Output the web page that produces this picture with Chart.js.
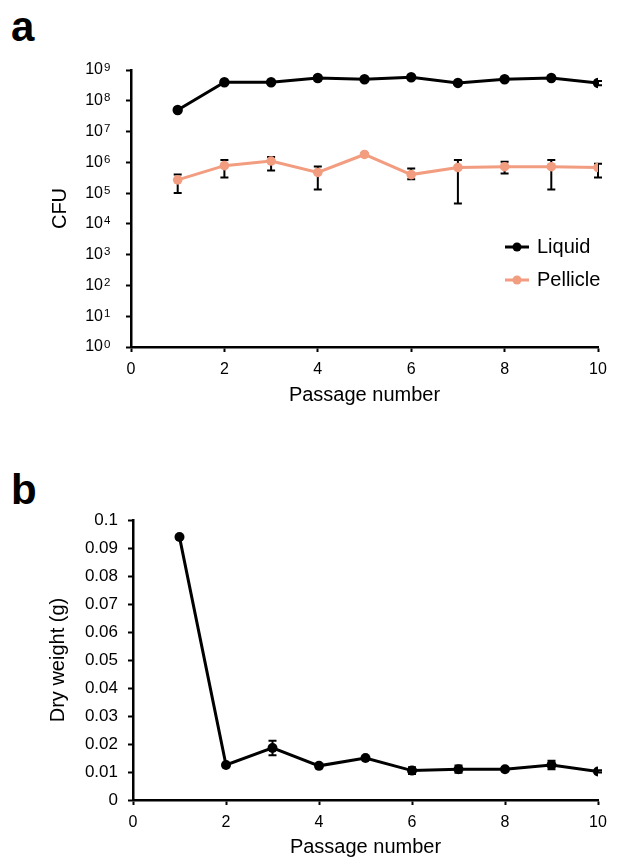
<!DOCTYPE html>
<html>
<head>
<meta charset="utf-8">
<script src="https://cdn.jsdelivr.net/npm/chart.js@4.4.1/dist/chart.umd.min.js"></script>
<style>
  body { margin: 0; background: #fff; }
  .wrap { position: relative; width: 617px; height: 859px; }
  canvas { position: absolute; left: 0; }
  #cfuChart { top: 0; }
  #weightChart { top: 430px; }
  .panel { position: absolute; left: 11px; font: bold 42px 'Liberation Sans', Arial, sans-serif; line-height: 1; }
</style>
</head>
<body>
<div class="wrap">
  <div class="panel" style="top: 6px">a</div>
  <canvas id="cfuChart" width="617" height="430"></canvas>
  <div class="panel" style="top: 469px">b</div>
  <canvas id="weightChart" width="617" height="429"></canvas>
</div>
<script>
const passages = [1, 2, 3, 4, 5, 6, 7, 8, 9, 10]

// panel a, CFU
const liquidCfu = [5e7, 4e8, 4e8, 5.5e8, 5e8, 5.8e8, 3.8e8, 5e8, 5.5e8, 3.8e8]
const liquidLow = [4.8e7, 3.8e8, 3.8e8, 4.6e8, 4.8e8, 5.5e8, 3.6e8, 4.8e8, 5.2e8, 3.2e8]
const liquidHigh = [5.2e7, 4.2e8, 4.2e8, 6.4e8, 5.2e8, 6.1e8, 4e8, 5.2e8, 5.8e8, 4.4e8]
const pellicleCfu = [2.7e5, 7.8e5, 1.1e6, 4.7e5, 1.8e6, 4e5, 6.8e5, 7.2e5, 7.2e5, 6.8e5]
const pellicleLow = [1e5, 3.2e5, 5.4e5, 1.3e5, 1.7e6, 2.8e5, 4.6e4, 4.3e5, 1.3e5, 3.2e5]
const pellicleHigh = [4e5, 1.2e6, 1.5e6, 7.3e5, 1.9e6, 6.3e5, 1.2e6, 1.05e6, 1.2e6, 9e5]
const cfuTicks = [1, 1e1, 1e2, 1e3, 1e4, 1e5, 1e6, 1e7, 1e8, 1e9]

// panel b, dry weight
const dryWeight = [0.0939, 0.0125, 0.0186, 0.0122, 0.015, 0.0105, 0.011, 0.011, 0.0125, 0.0102]
const dryLow = [0.0939, 0.0125, 0.016, 0.0118, 0.0146, 0.0093, 0.0097, 0.0104, 0.011, 0.0098]
const dryHigh = [0.0939, 0.0125, 0.0212, 0.0126, 0.0154, 0.0117, 0.0123, 0.0116, 0.014, 0.0106]

const salmon = '#f29c80'
const fontFamily = "'Liberation Sans', Arial, sans-serif"

Chart.defaults.font.family = fontFamily
Chart.defaults.color = '#000'

const toPoints = (ys) => passages.map((x, i) => ({ x, y: ys[i] }))

// black error bars with caps, drawn under the points
const errorBars = {
  id: 'errorBars',
  beforeDatasetsDraw(chart) {
    const { ctx } = chart
    const xs = chart.scales.x
    const ys = chart.scales.y
    ctx.save()
    ctx.strokeStyle = '#000'
    ctx.lineWidth = 2
    chart.data.datasets.forEach((ds) => {
      if (!ds.errLow) return
      passages.forEach((p, i) => {
        const x = xs.getPixelForValue(p)
        const y1 = ys.getPixelForValue(ds.errLow[i])
        const y2 = ys.getPixelForValue(ds.errHigh[i])
        ctx.beginPath()
        ctx.moveTo(x, y1)
        ctx.lineTo(x, y2)
        ctx.moveTo(x - 4, y1)
        ctx.lineTo(x + 4, y1)
        ctx.moveTo(x - 4, y2)
        ctx.lineTo(x + 4, y2)
        ctx.stroke()
      })
    })
    ctx.restore()
  },
}

// exponents for the log axis labels ("10" comes from the tick callback)
const logExponents = {
  id: 'logExponents',
  afterDraw(chart) {
    const { ctx } = chart
    const ys = chart.scales.y
    const x = ys.right - 5 - ys.options.ticks.padding + 1
    ctx.save()
    ctx.font = '11.5px ' + fontFamily
    ctx.fillStyle = '#000'
    ctx.textAlign = 'left'
    ctx.textBaseline = 'alphabetic'
    ys.ticks.forEach((t) => {
      const y = ys.getPixelForValue(t.value)
      ctx.fillText(String(Math.round(Math.log10(t.value))), x, y + 0.5)
    })
    ctx.restore()
  },
}

const lineLegend = {
  id: 'lineLegend',
  afterDraw(chart, args, opts) {
    const { ctx, chartArea } = chart
    ctx.save()
    ctx.font = '20px ' + fontFamily
    ctx.textBaseline = 'middle'
    chart.data.datasets.forEach((ds, i) => {
      const x = chartArea.right - opts.right
      const y = chartArea.top + opts.top + i * opts.gap
      ctx.strokeStyle = ds.borderColor
      ctx.lineWidth = 3
      ctx.beginPath()
      ctx.moveTo(x, y)
      ctx.lineTo(x + 24, y)
      ctx.stroke()
      ctx.fillStyle = ds.borderColor
      ctx.beginPath()
      ctx.arc(x + 12, y, 4.5, 0, Math.PI * 2)
      ctx.fill()
      ctx.fillStyle = '#000'
      ctx.fillText(ds.label, x + 32, y)
    })
    ctx.restore()
  },
}

const axisGrid = { drawOnChartArea: false, color: '#000', tickLength: 5, tickWidth: 2 }
const axisBorder = { color: '#000', width: 2.5 }

function xScale(height) {
  return {
    type: 'linear',
    min: 0,
    max: 10,
    ticks: { stepSize: 2, padding: 8, font: { size: 16 } },
    grid: axisGrid,
    border: axisBorder,
    title: { display: true, text: 'Passage number', font: { size: 20 }, padding: 0 },
    afterFit: (s) => {
      s.height = height
    },
  }
}

function lineSet(label, ys, low, high, color, radius) {
  return {
    label,
    data: toPoints(ys),
    errLow: low,
    errHigh: high,
    borderColor: color,
    pointBackgroundColor: color,
    pointBorderWidth: 0,
    pointRadius: radius,
    borderWidth: 3,
    tension: 0,
  }
}

new Chart(document.getElementById('cfuChart'), {
  type: 'line',
  data: {
    datasets: [
      lineSet('Liquid', liquidCfu, liquidLow, liquidHigh, '#000', 5.2),
      lineSet('Pellicle', pellicleCfu, pellicleLow, pellicleHigh, salmon, 4.8),
    ],
  },
  options: {
    responsive: false,
    animation: false,
    layout: { padding: { top: 70, right: 19, bottom: 23, left: 0 } },
    plugins: {
      legend: { display: false },
      tooltip: { enabled: false },
      lineLegend: { right: 93, top: 177, gap: 33 },
    },
    scales: {
      x: xScale(60),
      y: {
        type: 'logarithmic',
        min: 1,
        max: 1e9,
        afterBuildTicks: (s) => {
          s.ticks = cfuTicks.map((v) => ({ value: v }))
        },
        ticks: {
          padding: 23,
          font: { size: 16 },
          callback: () => '10',
        },
        grid: axisGrid,
        border: axisBorder,
        title: { display: true, text: 'CFU', font: { size: 20 }, padding: { top: 48 } },
        afterFit: (s) => {
          s.width = 131
        },
      },
    },
  },
  plugins: [errorBars, logExponents, lineLegend],
})

new Chart(document.getElementById('weightChart'), {
  type: 'line',
  data: {
    datasets: [lineSet('Dry weight', dryWeight, dryLow, dryHigh, '#000', 5)],
  },
  options: {
    responsive: false,
    animation: false,
    layout: { padding: { top: 90, right: 19, bottom: 0, left: 0 } },
    plugins: {
      legend: { display: false },
      tooltip: { enabled: false },
    },
    scales: {
      x: xScale(59),
      y: {
        min: 0,
        max: 0.1,
        ticks: {
          stepSize: 0.01,
          padding: 10,
          font: { size: 17 },
          callback: (v) => String(Number(v.toFixed(2))),
        },
        grid: axisGrid,
        border: axisBorder,
        title: { display: true, text: 'Dry weight (g)', font: { size: 20 }, padding: { top: 46 } },
        afterFit: (s) => {
          s.width = 133
        },
      },
    },
  },
  plugins: [errorBars],
})
</script>
</body>
</html>
